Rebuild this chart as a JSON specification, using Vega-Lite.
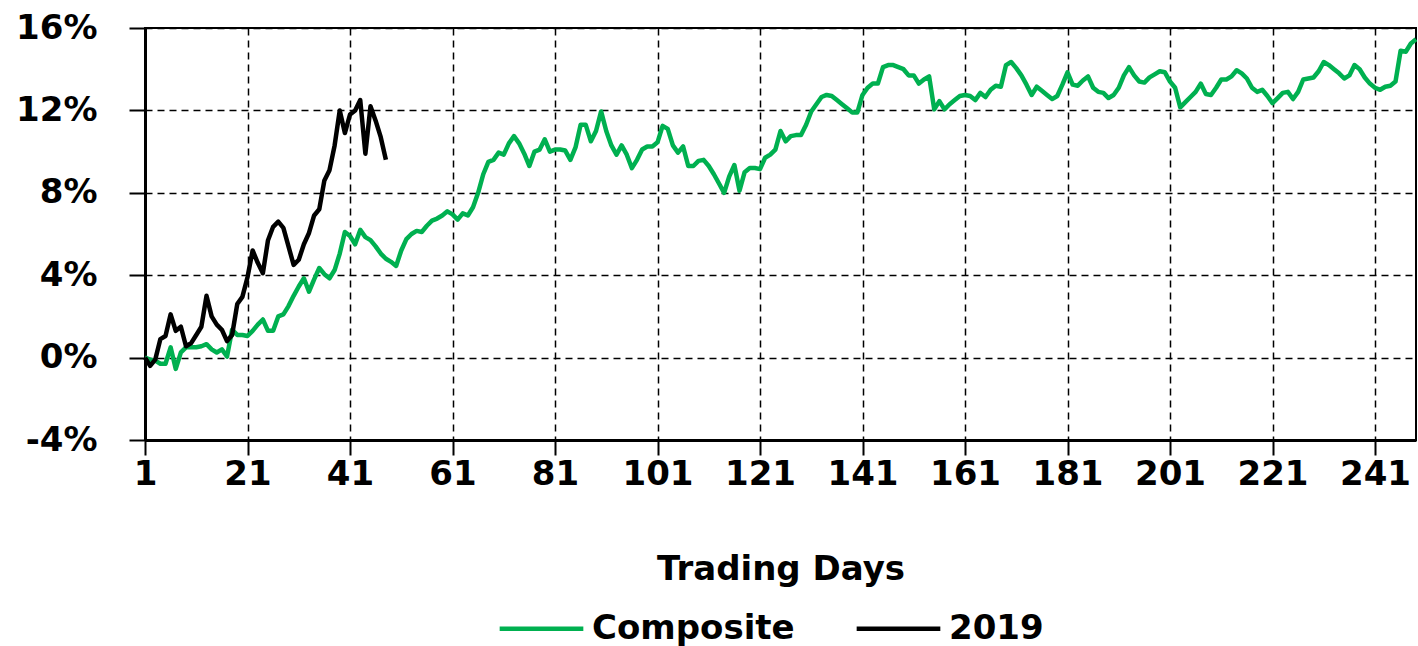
{
  "$schema": "https://vega.github.io/schema/vega-lite/v6.json",
  "width": 1271,
  "height": 412,
  "autosize": {"type": "none"},
  "padding": {"left": 145, "top": 28, "right": 2, "bottom": 206},
  "background": "white",
  "config": {
    "view": {"stroke": "black", "strokeWidth": 2},
    "font": "DejaVu Sans",
    "axis": {
      "domainColor": "black", "domainWidth": 3,
      "tickColor": "black", "tickWidth": 2, "tickSize": 16,
      "gridColor": "black", "gridWidth": 1.5, "gridDash": [7, 5], "gridOpacity": 1,
      "labelFont": "DejaVu Sans", "labelFontWeight": "bold", "labelFontSize": 34, "labelColor": "black",
      "titleFont": "DejaVu Sans", "titleFontWeight": "bold", "titleFontSize": 34, "titleColor": "black",
      "labelFlush": false, "labelOverlap": false, "labelBound": false
    }
  },
  "datasets": {
    "composite": [
      {"day":1,"pct":0.0},{"day":2,"pct":-0.1},{"day":3,"pct":-0.15},{"day":4,"pct":-0.3},{"day":5,"pct":-0.3},
      {"day":6,"pct":0.5},{"day":7,"pct":-0.55},{"day":8,"pct":0.25},{"day":9,"pct":0.5},{"day":10,"pct":0.5},
      {"day":11,"pct":0.5},{"day":12,"pct":0.55},{"day":13,"pct":0.65},{"day":14,"pct":0.4},{"day":15,"pct":0.25},
      {"day":16,"pct":0.4},{"day":17,"pct":0.05},{"day":18,"pct":1.35},{"day":19,"pct":1.1},{"day":20,"pct":1.1},
      {"day":21,"pct":1.05},{"day":22,"pct":1.3},{"day":23,"pct":1.6},{"day":24,"pct":1.85},{"day":25,"pct":1.3},
      {"day":26,"pct":1.3},{"day":27,"pct":2.0},{"day":28,"pct":2.1},{"day":29,"pct":2.5},{"day":30,"pct":3.0},
      {"day":31,"pct":3.45},{"day":32,"pct":3.85},{"day":33,"pct":3.2},{"day":34,"pct":3.8},{"day":35,"pct":4.35},
      {"day":36,"pct":4.05},{"day":37,"pct":3.85},{"day":38,"pct":4.25},{"day":39,"pct":5.05},{"day":40,"pct":6.1},
      {"day":41,"pct":5.9},{"day":42,"pct":5.5},{"day":43,"pct":6.2},{"day":44,"pct":5.85},{"day":45,"pct":5.7},
      {"day":46,"pct":5.4},{"day":47,"pct":5.05},{"day":48,"pct":4.8},{"day":49,"pct":4.65},{"day":50,"pct":4.45},
      {"day":51,"pct":5.2},{"day":52,"pct":5.75},{"day":53,"pct":6.0},{"day":54,"pct":6.15},{"day":55,"pct":6.1},
      {"day":56,"pct":6.4},{"day":57,"pct":6.65},{"day":58,"pct":6.75},{"day":59,"pct":6.9},{"day":60,"pct":7.1},
      {"day":61,"pct":6.95},{"day":62,"pct":6.7},{"day":63,"pct":7.0},{"day":64,"pct":6.9},{"day":65,"pct":7.3},
      {"day":66,"pct":8.0},{"day":67,"pct":8.9},{"day":68,"pct":9.5},{"day":69,"pct":9.6},{"day":70,"pct":9.95},
      {"day":71,"pct":9.85},{"day":72,"pct":10.4},{"day":73,"pct":10.75},{"day":74,"pct":10.4},{"day":75,"pct":9.9},
      {"day":76,"pct":9.3},{"day":77,"pct":10.0},{"day":78,"pct":10.1},{"day":79,"pct":10.6},{"day":80,"pct":10.0},
      {"day":81,"pct":10.1},{"day":82,"pct":10.1},{"day":83,"pct":10.05},{"day":84,"pct":9.6},{"day":85,"pct":10.2},
      {"day":86,"pct":11.3},{"day":87,"pct":11.3},{"day":88,"pct":10.5},{"day":89,"pct":11.0},{"day":90,"pct":11.95},
      {"day":91,"pct":11.0},{"day":92,"pct":10.3},{"day":93,"pct":9.85},{"day":94,"pct":10.3},{"day":95,"pct":9.85},
      {"day":96,"pct":9.2},{"day":97,"pct":9.6},{"day":98,"pct":10.1},{"day":99,"pct":10.25},{"day":100,"pct":10.25},
      {"day":101,"pct":10.45},{"day":102,"pct":11.25},{"day":103,"pct":11.1},{"day":104,"pct":10.3},{"day":105,"pct":9.95},
      {"day":106,"pct":10.25},{"day":107,"pct":9.3},{"day":108,"pct":9.3},{"day":109,"pct":9.55},{"day":110,"pct":9.6},
      {"day":111,"pct":9.3},{"day":112,"pct":8.9},{"day":113,"pct":8.45},{"day":114,"pct":8.0},{"day":115,"pct":8.8},
      {"day":116,"pct":9.35},{"day":117,"pct":8.1},{"day":118,"pct":9.0},{"day":119,"pct":9.2},{"day":120,"pct":9.2},
      {"day":121,"pct":9.15},{"day":122,"pct":9.7},{"day":123,"pct":9.85},{"day":124,"pct":10.1},{"day":125,"pct":11.0},
      {"day":126,"pct":10.5},{"day":127,"pct":10.75},{"day":128,"pct":10.8},{"day":129,"pct":10.8},{"day":130,"pct":11.3},
      {"day":131,"pct":11.95},{"day":132,"pct":12.3},{"day":133,"pct":12.65},{"day":134,"pct":12.75},{"day":135,"pct":12.7},
      {"day":136,"pct":12.5},{"day":137,"pct":12.3},{"day":138,"pct":12.1},{"day":139,"pct":11.9},{"day":140,"pct":11.9},
      {"day":141,"pct":12.75},{"day":142,"pct":13.1},{"day":143,"pct":13.3},{"day":144,"pct":13.3},{"day":145,"pct":14.1},
      {"day":146,"pct":14.2},{"day":147,"pct":14.2},{"day":148,"pct":14.1},{"day":149,"pct":14.0},{"day":150,"pct":13.7},
      {"day":151,"pct":13.7},{"day":152,"pct":13.3},{"day":153,"pct":13.5},{"day":154,"pct":13.65},{"day":155,"pct":12.05},
      {"day":156,"pct":12.45},{"day":157,"pct":12.05},{"day":158,"pct":12.3},{"day":159,"pct":12.5},{"day":160,"pct":12.7},
      {"day":161,"pct":12.75},{"day":162,"pct":12.7},{"day":163,"pct":12.5},{"day":164,"pct":12.85},{"day":165,"pct":12.65},
      {"day":166,"pct":13.0},{"day":167,"pct":13.2},{"day":168,"pct":13.15},{"day":169,"pct":14.2},{"day":170,"pct":14.35},
      {"day":171,"pct":14.05},{"day":172,"pct":13.7},{"day":173,"pct":13.25},{"day":174,"pct":12.75},{"day":175,"pct":13.15},
      {"day":176,"pct":12.95},{"day":177,"pct":12.75},{"day":178,"pct":12.55},{"day":179,"pct":12.7},{"day":180,"pct":13.25},
      {"day":181,"pct":13.85},{"day":182,"pct":13.25},{"day":183,"pct":13.2},{"day":184,"pct":13.45},{"day":185,"pct":13.65},
      {"day":186,"pct":13.1},{"day":187,"pct":12.9},{"day":188,"pct":12.85},{"day":189,"pct":12.6},{"day":190,"pct":12.75},
      {"day":191,"pct":13.1},{"day":192,"pct":13.7},{"day":193,"pct":14.1},{"day":194,"pct":13.7},{"day":195,"pct":13.4},
      {"day":196,"pct":13.35},{"day":197,"pct":13.6},{"day":198,"pct":13.75},{"day":199,"pct":13.9},{"day":200,"pct":13.85},
      {"day":201,"pct":13.4},{"day":202,"pct":13.1},{"day":203,"pct":12.15},{"day":204,"pct":12.4},{"day":205,"pct":12.65},
      {"day":206,"pct":12.9},{"day":207,"pct":13.3},{"day":208,"pct":12.8},{"day":209,"pct":12.75},{"day":210,"pct":13.1},
      {"day":211,"pct":13.5},{"day":212,"pct":13.5},{"day":213,"pct":13.65},{"day":214,"pct":13.95},{"day":215,"pct":13.8},
      {"day":216,"pct":13.55},{"day":217,"pct":13.1},{"day":218,"pct":12.9},{"day":219,"pct":13.0},{"day":220,"pct":12.7},
      {"day":221,"pct":12.35},{"day":222,"pct":12.6},{"day":223,"pct":12.85},{"day":224,"pct":12.9},{"day":225,"pct":12.55},
      {"day":226,"pct":12.9},{"day":227,"pct":13.5},{"day":228,"pct":13.55},{"day":229,"pct":13.6},{"day":230,"pct":13.9},
      {"day":231,"pct":14.35},{"day":232,"pct":14.2},{"day":233,"pct":14.0},{"day":234,"pct":13.8},{"day":235,"pct":13.55},
      {"day":236,"pct":13.7},{"day":237,"pct":14.2},{"day":238,"pct":14.0},{"day":239,"pct":13.6},{"day":240,"pct":13.3},
      {"day":241,"pct":13.1},{"day":242,"pct":13.0},{"day":243,"pct":13.15},{"day":244,"pct":13.2},{"day":245,"pct":13.4},
      {"day":246,"pct":14.9},{"day":247,"pct":14.85},{"day":248,"pct":15.25},{"day":249,"pct":15.45}
    ],
    "y2019": [
      {"day":1,"pct":0.0},{"day":2,"pct":-0.4},{"day":3,"pct":-0.1},{"day":4,"pct":0.9},{"day":5,"pct":1.05},
      {"day":6,"pct":2.1},{"day":7,"pct":1.3},{"day":8,"pct":1.5},{"day":9,"pct":0.55},{"day":10,"pct":0.7},
      {"day":11,"pct":1.1},{"day":12,"pct":1.5},{"day":13,"pct":3.0},{"day":14,"pct":2.0},{"day":15,"pct":1.6},
      {"day":16,"pct":1.35},{"day":17,"pct":0.8},{"day":18,"pct":1.1},{"day":19,"pct":2.6},{"day":20,"pct":2.95},
      {"day":21,"pct":3.9},{"day":22,"pct":5.2},{"day":23,"pct":4.6},{"day":24,"pct":4.1},{"day":25,"pct":5.7},
      {"day":26,"pct":6.35},{"day":27,"pct":6.6},{"day":28,"pct":6.3},{"day":29,"pct":5.4},{"day":30,"pct":4.5},
      {"day":31,"pct":4.75},{"day":32,"pct":5.5},{"day":33,"pct":6.05},{"day":34,"pct":6.9},{"day":35,"pct":7.2},
      {"day":36,"pct":8.6},{"day":37,"pct":9.1},{"day":38,"pct":10.3},{"day":39,"pct":12.0},{"day":40,"pct":10.9},
      {"day":41,"pct":11.8},{"day":42,"pct":12.0},{"day":43,"pct":12.5},{"day":44,"pct":9.9},{"day":45,"pct":12.2},
      {"day":46,"pct":11.5},{"day":47,"pct":10.7},{"day":48,"pct":9.6}
    ]
  },
  "encoding": {
    "x": {
      "field": "day", "type": "quantitative",
      "scale": {"domain": [1, 249], "nice": false, "zero": false},
      "axis": {
        "values": [1, 21, 41, 61, 81, 101, 121, 141, 161, 181, 201, 221, 241],
        "grid": true, "tickSize": 15, "labelPadding": 2,
        "title": "Trading Days", "titlePadding": 61
      }
    },
    "y": {
      "field": "pct", "type": "quantitative",
      "scale": {"domain": [-4, 16], "nice": false, "zero": false},
      "axis": {
        "values": [-4, 0, 4, 8, 12, 16],
        "labelExpr": "datum.value + '%'",
        "grid": true, "tickSize": 16, "labelPadding": 32, "title": null
      }
    },
    "color": {
      "field": "series", "type": "nominal",
      "scale": {"domain": ["Composite", "2019"], "range": ["#00B050", "#000000"]},
      "legend": {
        "orient": "none", "legendX": 352, "legendY": 556,
        "direction": "horizontal", "title": null,
        "symbolType": "stroke", "symbolSize": 7000, "symbolStrokeWidth": 4.5,
        "labelFont": "DejaVu Sans", "labelFontWeight": "bold", "labelFontSize": 34, "labelColor": "black",
        "labelOffset": 6, "columnPadding": 52, "labelLimit": 400
      }
    }
  },
  "layer": [
    {
      "data": {"name": "composite"},
      "transform": [{"calculate": "'Composite'", "as": "series"}],
      "mark": {"type": "line", "strokeWidth": 4.5, "strokeJoin": "round"}
    },
    {
      "data": {"name": "y2019"},
      "transform": [{"calculate": "'2019'", "as": "series"}],
      "mark": {"type": "line", "strokeWidth": 4.5, "strokeJoin": "round"}
    }
  ]
}
